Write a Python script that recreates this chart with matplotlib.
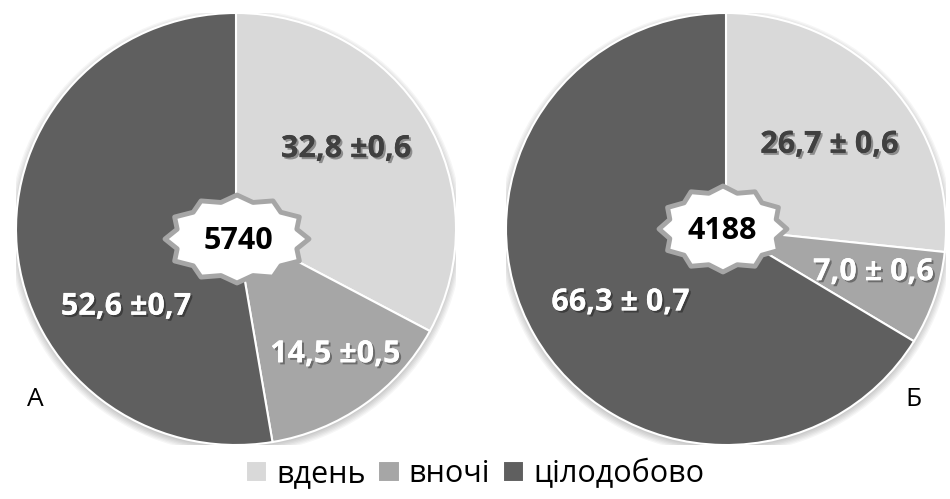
import numpy as np
from matplotlib import pyplot as plt
from matplotlib import patheffects as pe
from matplotlib.patches import Polygon, Ellipse

plt.rcParams['font.family'] = ['Open Sans', 'DejaVu Sans']

categories = ["вдень", "вночі", "цілодобово"]
colors = ["#d9d9d9", "#a6a6a6", "#5f5f5f"]

values_a = [32.8, 14.5, 52.6]
labels_a = ["32,8 ±0,6", "14,5 ±0,5", "52,6 ±0,7"]
total_a = "5740"

values_b = [26.7, 7.0, 66.3]
labels_b = ["26,7 ± 0,6", "7,0 ± 0,6", "66,3 ± 0,7"]
total_b = "4188"

W, H = 950, 499
fig = plt.figure(figsize=(W / 100, H / 100), dpi=100)


def px_axes(cx, cy, rx, ry):
    # axes box in figure fraction from a centre/radii in pixels (y from top)
    return [(cx - rx) / W, (H - cy - ry) / H, 2 * rx / W, 2 * ry / H]


def star(ax, cx, cy, rx, ry, n=12, inner=0.86):
    ang = np.linspace(0, 2 * np.pi, 2 * n, endpoint=False)
    rad = np.where(np.arange(2 * n) % 2 == 0, 1.0, inner)
    pts = np.column_stack([cx + rx * rad * np.cos(ang), cy + ry * rad * np.sin(ang)])
    ax.add_patch(Polygon(pts, closed=True, fc="white", ec="#a6a6a6", lw=3.5,
                         joinstyle="round", zorder=5))


def draw_pie(rect, values, labels, text_pos, text_colors):
    ax = fig.add_axes(rect)
    # soft shadow under the disc
    for k in range(6):
        ax.add_patch(Ellipse((0, -0.012), 2 + 0.012 * k, 2 + 0.012 * k,
                             fc="black", ec="none", alpha=0.035, zorder=0))
    wedges, _ = ax.pie(values, colors=colors, startangle=90, counterclock=False,
                       wedgeprops=dict(edgecolor="white", linewidth=1.5, zorder=2))
    for lab, (x, y), c in zip(labels, text_pos, text_colors):
        ax.text(x, y, lab, ha="center", va="center", fontsize=22, fontweight="bold",
                color=c, zorder=6,
                path_effects=[pe.withSimplePatchShadow(offset=(1.5, -1.5),
                                                       shadow_rgbFace="black", alpha=0.35),
                              pe.Normal()])
    ax.set_xlim(-1, 1)
    ax.set_ylim(-1, 1)
    ax.set_aspect("auto")
    ax.axis("off")
    return wedges


wedges = draw_pie(px_axes(236, 229, 220, 216), values_a, labels_a,
                  [(0.5, 0.37), (0.45, -0.58), (-0.5, -0.36)],
                  ["#404040", "white", "white"])
draw_pie(px_axes(726, 229, 220, 216), values_b, labels_b,
         [(0.47, 0.39), (0.67, -0.2), (-0.48, -0.34)],
         ["#404040", "white", "white"])

# overlay in pixel coordinates for the centre badges and panel letters
ov = fig.add_axes([0, 0, 1, 1])
ov.set_xlim(0, W)
ov.set_ylim(H, 0)
ov.axis("off")

star(ov, 237, 239, 72, 44)
ov.text(238, 241, total_a, ha="center", va="center", fontsize=22, fontweight="bold",
        color="black", zorder=6)
star(ov, 723, 229, 64, 43)
ov.text(722, 231, total_b, ha="center", va="center", fontsize=22, fontweight="bold",
        color="black", zorder=6)

ov.text(35, 400, "А", ha="center", va="center", fontsize=19)
ov.text(913, 400, "Б", ha="center", va="center", fontsize=19)

fig.legend(wedges, categories, loc="center", bbox_to_anchor=(0.5, 1 - 474 / H),
           ncol=3, frameon=False, fontsize=22, handlelength=0.7, handleheight=0.7,
           handletextpad=0.3, columnspacing=0.4)

fig.savefig("out.png", dpi=100)
